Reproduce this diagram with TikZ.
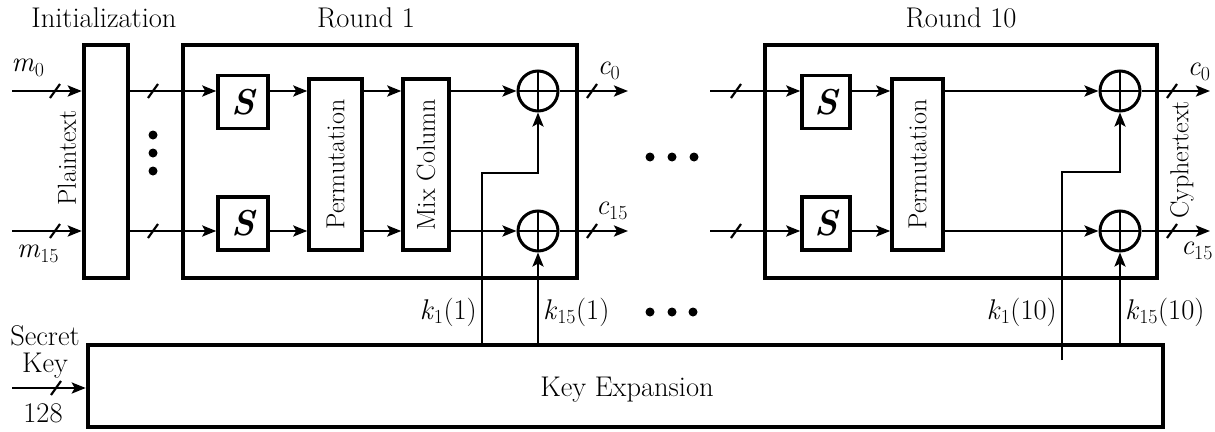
\documentclass[tikz,border=0pt]{standalone}
\usepackage{fontspec}
\usetikzlibrary{arrows.meta}
\newcommand{\vsub}[2]{\textit{#1}\textsubscript{#2}}
\begin{document}
\begin{tikzpicture}[x=1pt,y=-1pt,
  every node/.style={font=\fontsize{28.5}{32}\selectfont, inner sep=0pt},
  vlabel/.style={rotate=90, font=\fontsize{26}{30}\selectfont},
  wire/.style={line width=2.5pt},
  arr/.style={wire,-{Stealth[length=14pt,width=11pt,inset=3pt]}},
  bigbox/.style={draw,line width=4.5pt,inner sep=0pt},
  smallbox/.style={draw,line width=3.5pt,inner sep=0pt},
  xor/.style={draw,circle,line width=3pt,minimum size=40pt,inner sep=0pt,
    path picture={\draw[line width=2.5pt] (path picture bounding box.north) -- (path picture bounding box.south)
      (path picture bounding box.west) -- (path picture bounding box.east);}},
  sbox/.style={smallbox, minimum width=50pt, minimum height=53pt, font=\fontsize{36}{40}\selectfont\bfseries\itshape},
  dot/.style={circle,fill,minimum size=9pt,inner sep=0pt},
  busmark/.pic={\draw[line width=2.2pt] (-5,7) -- (5,-7);}
]
\useasboundingbox (0,0) rectangle (1215,431);

% rows
\coordinate (row0) at (0,91);
\coordinate (row15) at (0,231);

% big boxes
\node[bigbox, minimum width=44pt, minimum height=233pt] (init) at (106,161.5) {};
\node[bigbox, minimum width=394pt, minimum height=233pt] (r1) at (380,161.5) {};
\node[bigbox, minimum width=392pt, minimum height=233pt] (r10) at (961,161.5) {};
\node[bigbox, minimum width=1075pt, minimum height=82pt] (key) at (625.5,386) {};
\node (lkey) at (627,390) {Key Expansion};

% titles
\node (tinit) at (104,18) {Initialization};
\node (tr1) at (366,18) {Round 1};
\node (tr10) at (961,18) {Round 10};
\node[vlabel] (lplain) at (67,158) {Plaintext};
\node[vlabel] (lcy) at (1182,160) {Cyphertext};

% round 1 blocks
\node[sbox] (s1a) at (243,102) {S};
\node[sbox] (s1b) at (243,223.5) {S};
\node[smallbox, minimum width=53pt, minimum height=171pt] (p1) at (335.5,164.5) {};
\node[vlabel] (lp1) at (p1.center) {Permutation};
\node[smallbox, minimum width=46pt, minimum height=171pt] (mc1) at (426,164.5) {};
\node[vlabel] (lmc1) at (mc1.center) {Mix Column};
\node[xor] (x1a) at (538,91) {};
\node[xor] (x1b) at (538,231) {};

% round 10 blocks
\node[sbox, minimum width=48pt] (s10a) at (826,102) {S};
\node[sbox, minimum width=48pt] (s10b) at (826,223.5) {S};
\node[smallbox, minimum width=51pt, minimum height=171pt] (p10) at (917.5,164.5) {};
\node[vlabel] (lp10) at (p10.center) {Permutation};
\node[xor] (x10a) at (1120,91) {};
\node[xor] (x10b) at (1120,231) {};

% plaintext inputs
\coordinate (m0in) at (12,91);
\coordinate (m15in) at (12,231);
\draw[arr] (m0in) -- (init.west |- row0);
\draw[arr] (m15in) -- (init.west |- row15);
\pic at (55,91) {busmark};
\pic at (55,231) {busmark};
\node (lm0) at (28,68) {\vsub{m}{0}};
\node (lm15) at (38,254) {\vsub{m}{15}};

% init to round 1
\draw[arr] (init.east |- row0) -- (s1a.west |- row0);
\draw[arr] (init.east |- row15) -- (s1b.west |- row15);
\pic at (153,91) {busmark};
\pic at (153,231) {busmark};
\node[dot] (vd1) at (153,135) {};
\node[dot] (vd2) at (153,153) {};
\node[dot] (vd3) at (153,171) {};

% round 1 internals
\draw[arr] (s1a.east |- row0) -- (p1.west |- row0);
\draw[arr] (s1b.east |- row15) -- (p1.west |- row15);
\draw[arr] (p1.east |- row0) -- (mc1.west |- row0);
\draw[arr] (p1.east |- row15) -- (mc1.west |- row15);
\draw[arr] (mc1.east |- row0) -- (x1a.west);
\draw[arr] (mc1.east |- row15) -- (x1b.west);

% round 1 outputs
\coordinate (o1a) at (628,91);
\coordinate (o1b) at (628,231);
\draw[arr] (x1a.east) -- (o1a);
\draw[arr] (x1b.east) -- (o1b);
\pic at (592,91) {busmark};
\pic at (592,231) {busmark};
\node (lc0a) at (609,71) {\vsub{c}{0}};
\node (lc15a) at (612,211) {\vsub{c}{15}};

% middle dots
\node[dot] (md1) at (650,157) {};
\node[dot] (md2) at (672,157) {};
\node[dot] (md3) at (694,157) {};

% round 10 inputs
\coordinate (i10a) at (710,91);
\coordinate (i10b) at (710,231);
\draw[arr] (i10a) -- (s10a.west |- row0);
\draw[arr] (i10b) -- (s10b.west |- row15);
\pic at (736,91) {busmark};
\pic at (736,231) {busmark};
\draw[arr] (s10a.east |- row0) -- (p10.west |- row0);
\draw[arr] (s10b.east |- row15) -- (p10.west |- row15);
\draw[arr] (p10.east |- row0) -- (x10a.west);
\draw[arr] (p10.east |- row15) -- (x10b.west);

% round 10 outputs
\coordinate (o10a) at (1210,91);
\coordinate (o10b) at (1210,231);
\draw[arr] (x10a.east) -- (o10a);
\draw[arr] (x10b.east) -- (o10b);
\pic at (1172,91) {busmark};
\pic at (1172,231) {busmark};
\node (lc0b) at (1199,72) {\vsub{c}{0}};
\node (lc15b) at (1197,251) {\vsub{c}{15}};

% key lines
\coordinate (k1a) at (482,345);
\coordinate (k1b) at (538,345);
\coordinate (k10a) at (1062,360);
\coordinate (k10b) at (1120,345);
\coordinate (k1turn) at (538,173);
\coordinate (k10turn) at (1120,172);
\draw[arr] (k1a) |- (k1turn) -- (x1a.south);
\draw[arr] (k1b) -- (x1b.south);
\draw[arr] (k10a) |- (k10turn) -- (x10a.south);
\draw[arr] (k10b) -- (x10b.south);
\node[anchor=east] (lk1a) at (477,312) {\vsub{k}{1}(1)};
\node[anchor=west] (lk1b) at (543,312) {\vsub{k}{15}(1)};
\node[anchor=east] (lk10a) at (1057,312) {\vsub{k}{1}(10)};
\node[anchor=west] (lk10b) at (1125,312) {\vsub{k}{15}(10)};
\node[dot] (ld1) at (650,312) {};
\node[dot] (ld2) at (672,312) {};
\node[dot] (ld3) at (693,312) {};

% secret key input
\coordinate (skin) at (12,388);
\draw[arr] (skin) -- (key.west |- skin);
\pic at (56,388) {busmark};
\node (lsecret) at (45,336) {Secret};
\node (lskey) at (45,366) {Key};
\node (l128) at (43,413) {128};
\end{tikzpicture}
\end{document}
